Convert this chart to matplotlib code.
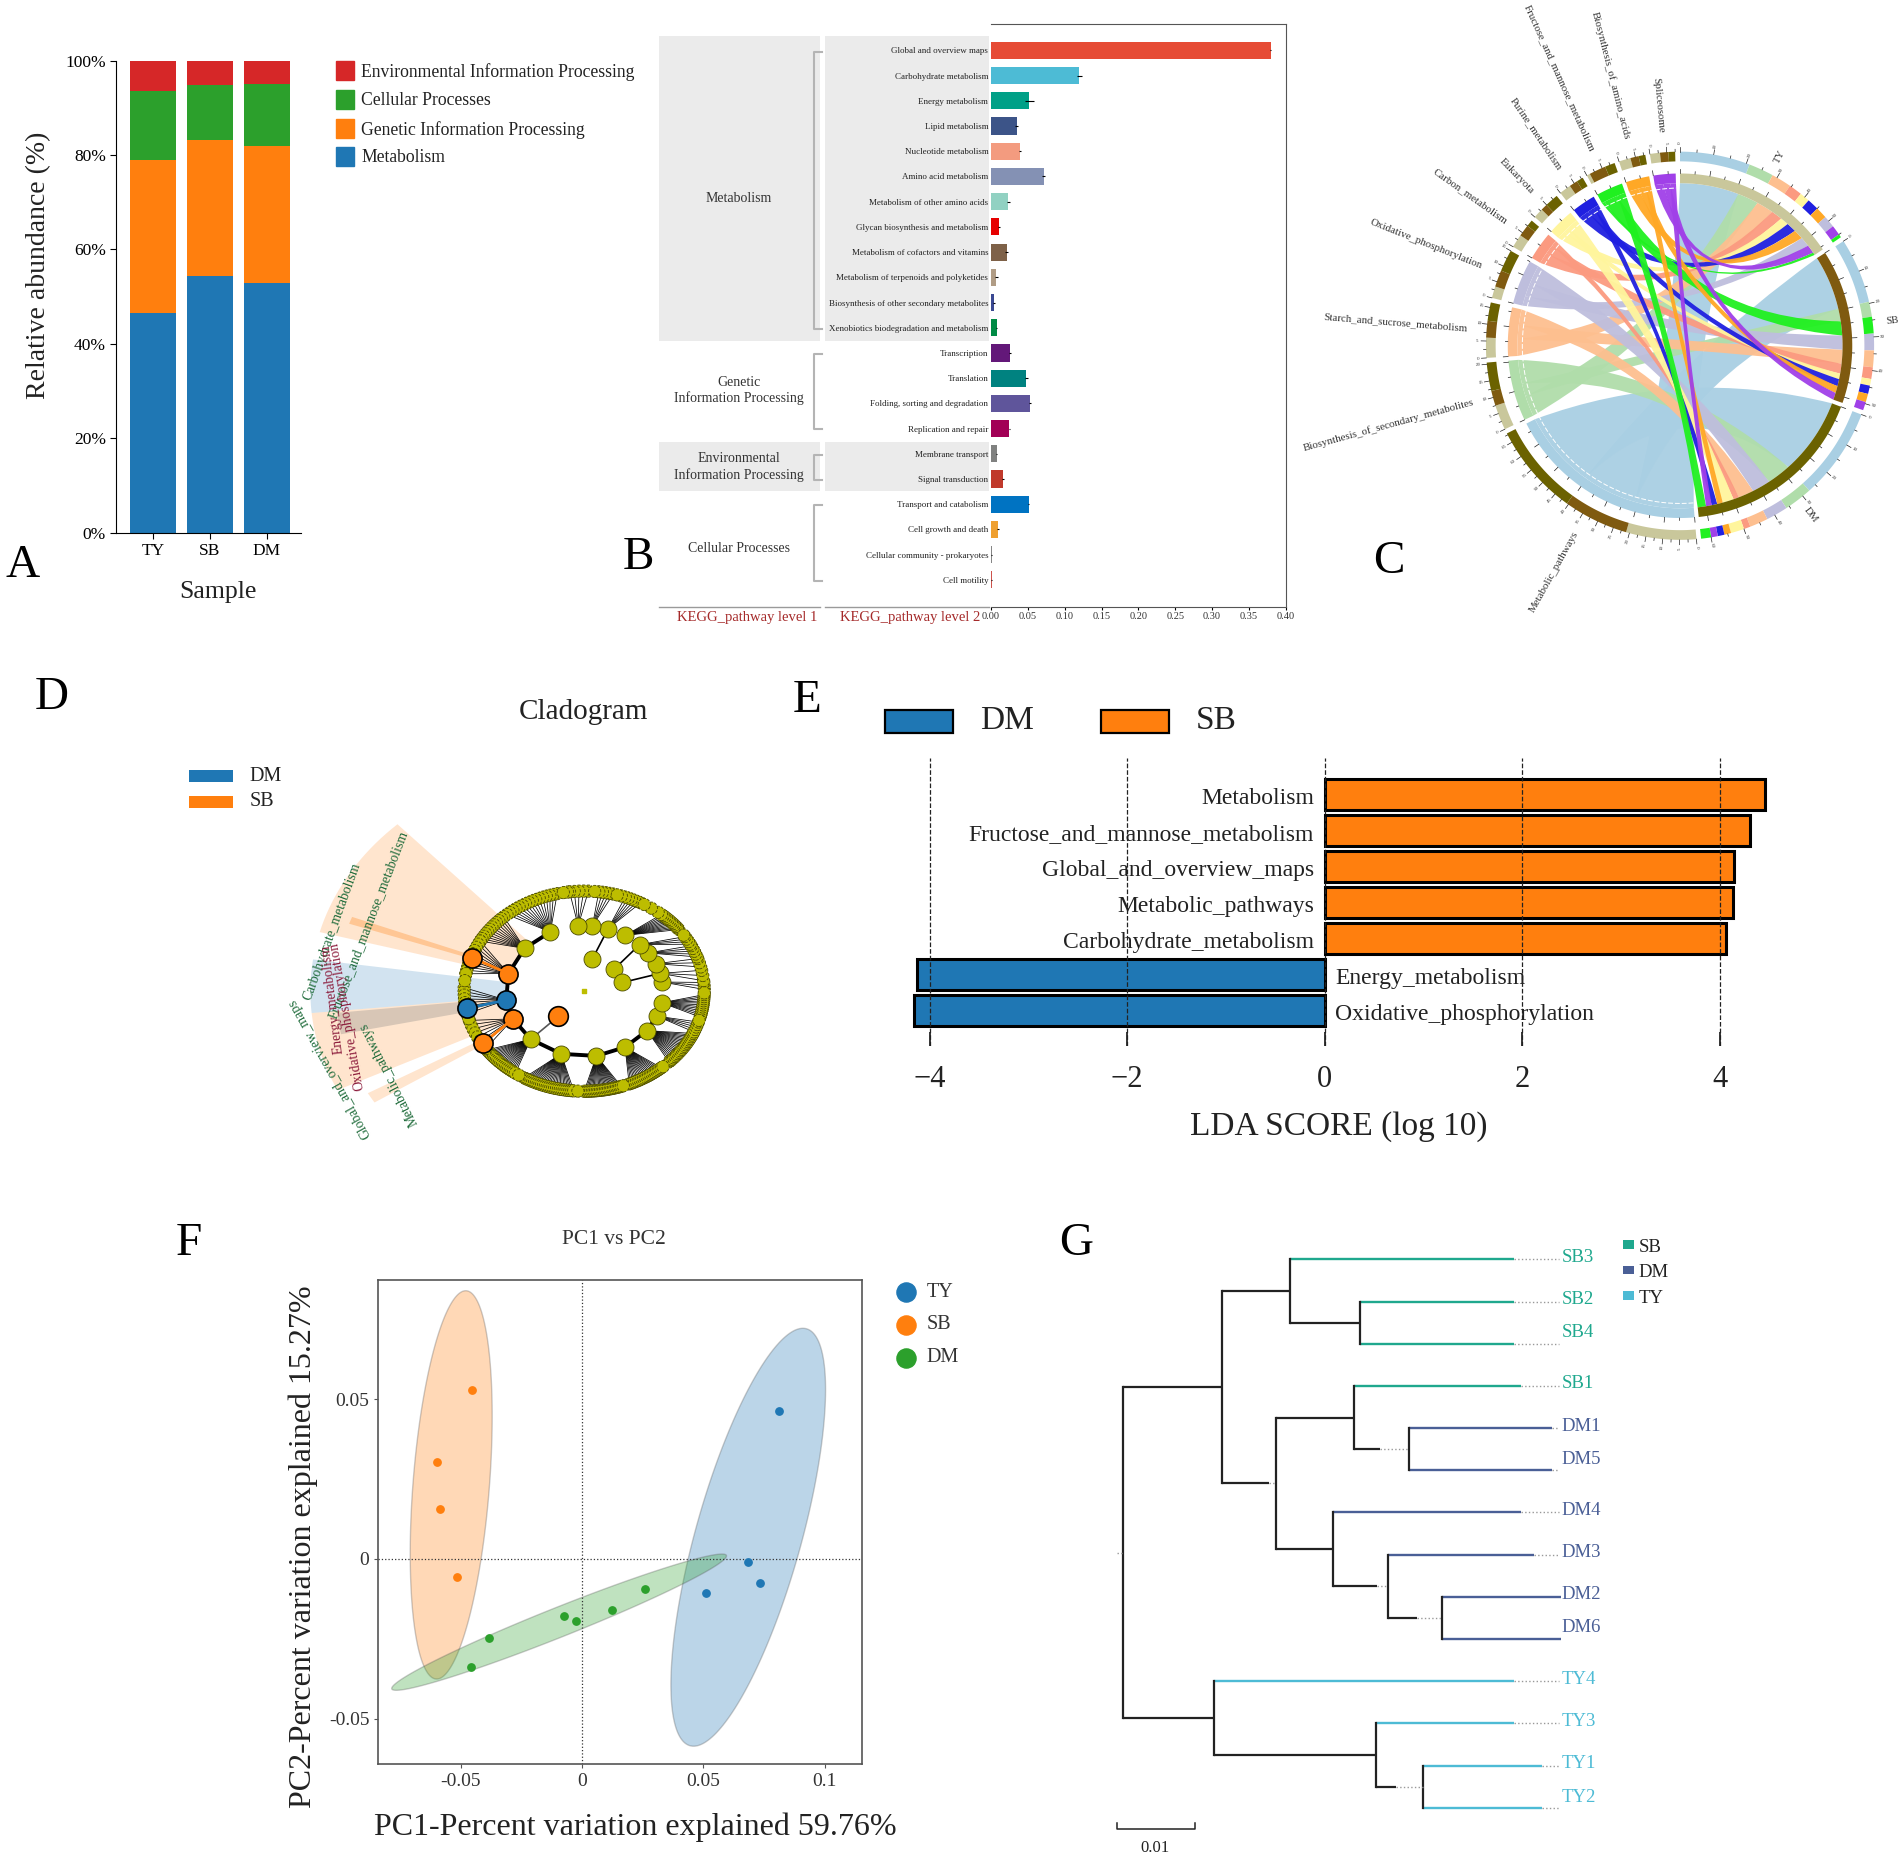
import numpy as np
import matplotlib
matplotlib.use("Agg")
import matplotlib.pyplot as plt
from matplotlib.path import Path
from matplotlib.patches import PathPatch, Rectangle, Polygon

plt.rcParams['font.family'] = ['Liberation Serif', 'DejaVu Serif']

# panel A
samples = ['TY', 'SB', 'DM']
a_levels = ['Metabolism', 'Genetic Information Processing', 'Cellular Processes', 'Environmental Information Processing']
a_values = [[46.5, 54.3, 52.8], [32.5, 28.9, 29.2], [14.5, 11.6, 13.0], [6.5, 5.2, 5.0]]
a_colors = ['#1f77b4', '#ff7f0e', '#2ca02c', '#d62728']

# panel B
b_names = ['Global and overview maps', 'Carbohydrate metabolism', 'Energy metabolism', 'Lipid metabolism',
           'Nucleotide metabolism', 'Amino acid metabolism', 'Metabolism of other amino acids',
           'Glycan biosynthesis and metabolism', 'Metabolism of cofactors and vitamins',
           'Metabolism of terpenoids and polyketides', 'Biosynthesis of other secondary metabolites',
           'Xenobiotics biodegradation and metabolism', 'Transcription', 'Translation',
           'Folding, sorting and degradation', 'Replication and repair', 'Membrane transport',
           'Signal transduction', 'Transport and catabolism', 'Cell growth and death',
           'Cellular community - prokaryotes', 'Cell motility']
b_values = [0.3795, 0.120, 0.052, 0.035, 0.039, 0.0716, 0.0235, 0.011, 0.021, 0.007, 0.004, 0.0076,
            0.026, 0.048, 0.053, 0.025, 0.0076, 0.0164, 0.051, 0.0094, 0.0008, 0.0008]
b_errors = [0.001, 0.004, 0.006, 0.002, 0.001, 0.002, 0.002, 0.001, 0.002, 0.002, 0.001, 0.0003,
            0.001, 0.002, 0.001, 0.001, 0.0003, 0.001, 0.0005, 0.001, 0.001, 0.001]
b_colors = ['#E64B35', '#4DBBD5', '#00A087', '#3C5488', '#F39B7F', '#8491B4', '#91D1C2', '#E60000',
            '#7E6148', '#B09C85', '#3B4992', '#008B45', '#631879', '#008280', '#5F559B', '#A20056',
            '#808180', '#C0392B', '#0073C2', '#EFA030', '#868686', '#CD534C']

# panel C
pathways = ['Metabolic_pathways', 'Biosynthesis_of_secondary_metabolites', 'Starch_and_sucrose_metabolism',
            'Oxidative_phosphorylation', 'Carbon_metabolism', 'Eukaryota', 'Purine_metabolism',
            'Fructose_and_mannose_metabolism', 'Biosynthesis_of_amino_acids', 'Spliceosome']
path_colors = ['#A9CFE3', '#B0DDAA', '#FDBF8F', '#BEBEDD', '#FB9A80', '#FFF59D', '#2020E0', '#20F020', '#FFA826', '#A040E8']
group_colors = ['#C9C79B', '#7F5A10', '#6B6200']
chord_ty = [21, 7.5, 6, 3.5, 4, 3, 3.5, 1, 3.5, 3]
chord_sb = [19.5, 4.5, 5, 5, 3.5, 2, 2.5, 5, 2.5, 2.5]
chord_dm = [27.5, 8.5, 5.5, 6.5, 2, 4, 2, 3, 2, 2]
order_ty = [0, 1, 2, 4, 5, 6, 8, 3, 9, 7]
order_sb = [0, 1, 7, 3, 2, 4, 5, 6, 8, 9]
order_dm = [0, 1, 3, 2, 4, 5, 8, 6, 9, 7]

# panel D
clade_angle = [115.5, 139.3, 164.4, 187.8, 205, 227.2, 253, 279, 301.3, 323, 337.6, 349.8,
               8, 15.7, 24.7, 35.7, 45.2, 58.4, 72.3, 84, 94.4]
clade_start = [103, 132, 150, 178, 197, 216, 240, 270, 292, 315, 336, 345, 1, 6, 14, 20, 28, 38, 62, 76, 88]
clade_end = [130, 150, 170, 193, 215, 235, 265, 288, 310, 335, 342, 358, 5, 12, 19, 27, 33, 50, 70, 83, 97]
clade_leaves = [16, 12, 11, 8, 8, 20, 28, 24, 20, 20, 5, 12, 3, 3, 3, 5, 4, 12, 6, 5, 5]
clade_mark = {2: '#ff7f0e', 3: '#1f77b4', 4: '#ff7f0e'}
ring_fill = [170, 174, 194, 196, 215, 237, 267, 289, 311, 343, 359, 34, 52, 56, 60, 72, 74, 85, 98, 100]
inner_angle = [78, 41.3, 15.2, 229.5]
inner_parent = [72.3, 45.2, 15.7, 227.2]
fan_start = [133, 172, 185.5, 159, 186, 209.5]
fan_end = [165, 185.5, 205.7, 161, 192, 212.5]
fan_color = ['#ff7f0e', '#1f77b4', '#ff7f0e', '#ff7f0e', '#7f7f7f', '#ff7f0e']
fan_alpha = [0.2, 0.2, 0.2, 0.3, 0.3, 0.2]
clad_labels = ['Carbohydrate_metabolism', 'Fructose_and_mannose_metabolism', 'Energy_metabolism',
               'Oxidative_phosphorylation', 'Global_and_overview_maps', 'Metabolic_pathways']
clad_label_x = [274, 304, 274, 286, 272, 321]
clad_label_y = [768, 762, 824, 838, 881, 885]
clad_label_rot = [70, 69, 97, 100, 119, 117]
clad_label_col = ['#1E6B3A', '#1E6B3A', '#8B1A3A', '#8B1A3A', '#1E6B3A', '#1E6B3A']

# panel E
lda_names = ['Metabolism', 'Fructose_and_mannose_metabolism', 'Global_and_overview_maps', 'Metabolic_pathways',
             'Carbohydrate_metabolism', 'Energy_metabolism', 'Oxidative_phosphorylation']
lda_values = [4.46, 4.31, 4.15, 4.14, 4.07, -4.13, -4.16]

# panel F
ty_x = [0.081, 0.0685, 0.0735, 0.051]
ty_y = [0.0464, -0.0011, -0.0076, -0.0106]
sb_x = [-0.0455, -0.060, -0.0585, -0.0515]
sb_y = [0.0528, 0.0304, 0.0156, -0.0057]
dm_x = [0.026, 0.0125, -0.0075, -0.0025, -0.0385, -0.046]
dm_y = [-0.0095, -0.016, -0.0179, -0.0194, -0.0247, -0.0338]
ell_center = [(0.0685, 0.0068), (-0.054, 0.0232), (-0.0095, -0.0198)]
ell_major = [(0.024, 0.0653), (0.00625, 0.0608), (0.069, 0.0209)]
ell_minor = [(0.021, -0.0044), (0.0157, -0.001), (0.0022, -0.0043)]
pca_colors = ['#1f77b4', '#ff7f0e', '#2ca02c']

# panel G
tree_colors = {'SB': '#1FA88E', 'DM': '#4A5F96', 'TY': '#4DBBD5'}
label_shift = {'SB4': 0.22, 'DM5': 0.2, 'DM6': 0.22, 'TY2': 0.2}
# (position, solid part of the branch ends here, children); tips are (name, end)
tree = (0.0, 0.0, [
    (0.01254, 0.01254, [
        (0.02127, 0.02127, [('SB3', 0.04976),
                            (0.03020, 0.03020, [('SB2', 0.04976), ('SB4', 0.04976)])]),
        (0.01941, 0.01863, [
            (0.02946, 0.02946, [('SB1', 0.05073),
                                (0.03639, 0.03268, [('DM1', 0.05463), ('DM5', 0.05463)])]),
            (0.02678, 0.02678, [('DM4', 0.05073),
                                (0.03371, 0.03229, [('DM3', 0.05234),
                                                    (0.04063, 0.03741, [('DM2', 0.05576), ('DM6', 0.05576)])])]),
        ]),
    ]),
    (0.01156, 0.01156, [('TY4', 0.04976),
                        (0.03220, 0.03220, [('TY3', 0.04976),
                                            (0.03820, 0.03473, [('TY1', 0.05341), ('TY2', 0.05341)])])]),
])

W, H = 1568.0, 1534.0
fig = plt.figure(figsize=(19.02, 18.61), dpi=100)


def add_axes(x0, y0, x1, y1):
    return fig.add_axes([x0 / W, 1 - y1 / H, (x1 - x0) / W, (y1 - y0) / H])


canvas = fig.add_axes([0, 0, 1, 1], zorder=5)
canvas.set_xlim(0, W)
canvas.set_ylim(H, 0)
canvas.axis('off')
back = fig.add_axes([0, 0, 1, 1], zorder=0)
back.set_xlim(0, W)
back.set_ylim(H, 0)
back.axis('off')

for letter, x, y in [('A', 19, 466), ('B', 526, 460), ('C', 1145, 463), ('D', 43, 575),
                     ('E', 665, 578), ('F', 156, 1025), ('G', 887, 1025)]:
    canvas.text(x, y, letter, fontsize=34, ha='center', va='center')

# ---- A
ax = add_axes(96, 50, 248, 439)
ax.set_zorder(1)
bottom = np.zeros(3)
for vals, col in zip(a_values, a_colors):
    ax.bar(range(3), vals, 0.81, bottom=bottom, color=col)
    bottom = bottom + np.array(vals)
ax.set_xlim(-0.64, 2.6)
ax.set_ylim(0, 100)
ax.set_xticks(range(3))
ax.set_xticklabels(samples, fontsize=12.5)
ax.set_yticks(range(0, 101, 20))
ax.set_yticklabels(['%d%%' % v for v in range(0, 101, 20)], fontsize=12.5)
ax.spines[['top', 'right']].set_visible(False)
ax.tick_params(length=4)
canvas.text(32, 219, 'Relative abundance (%)', rotation=90, fontsize=20, ha='center', va='center', color='#222222')
canvas.text(180, 488, 'Sample', fontsize=18.5, ha='center', va='center', color='#222222')
for i, y in enumerate([129, 106, 82, 58]):
    canvas.add_patch(Rectangle((277, y - 8), 15, 16, color=a_colors[i]))
    canvas.text(298, y + 1, a_levels[i], fontsize=12.7, va='center', color='#222222')

# ---- B
for y0, y1 in [(30, 281), (364, 405)]:
    back.add_patch(Rectangle((543, y0), 133, y1 - y0, color='#EBEBEB', lw=0))
    back.add_patch(Rectangle((680, y0), 135, y1 - y0, color='#EBEBEB', lw=0))
for y0, y1 in [(43, 271), (292, 354), (375, 396), (416, 479)]:
    back.plot([678, 671, 671, 678], [y0, y0, y1, y1], color='#B4B4B4', lw=1.5)
for x0, x1 in [(543, 676), (680, 815)]:
    back.plot([x0, x1], [500, 500], color='#9a9a9a', lw=1)
for label, y in [('Metabolism', 164), ('Genetic\nInformation Processing', 322),
                 ('Environmental\nInformation Processing', 385), ('Cellular Processes', 452)]:
    back.text(609, y, label, fontsize=10, ha='center', va='center', color='#333333', linespacing=1.25)
back.text(616, 509, 'KEGG_pathway level 1', fontsize=10.5, color='#A52A2A', ha='center', va='center')
back.text(750, 509, 'KEGG_pathway level 2', fontsize=10.5, color='#A52A2A', ha='center', va='center')

ax = add_axes(817, 20, 1060, 500)
ax.set_zorder(1)
ax.patch.set_visible(False)
ax.barh(range(22), b_values, 0.68, color=b_colors, xerr=b_errors,
        error_kw=dict(ecolor='black', lw=0.8, capsize=0))
ax.set_xlim(0, 0.40)
ax.set_ylim(22.06, -1.035)
ax.set_yticks(range(22))
ax.set_yticklabels(b_names, fontsize=6.5, color='#222222')
ax.set_xticks(np.arange(0, 0.41, 0.05))
ax.set_xticklabels(['%.2f' % v for v in np.arange(0, 0.41, 0.05)], fontsize=7.5, color='#333333')
ax.tick_params(axis='y', length=0, pad=2)
ax.tick_params(axis='x', length=2, pad=2)
ax.spines['left'].set_visible(False)
for s in ['top', 'right', 'bottom']:
    ax.spines[s].set_color('#555555')

# ---- C
cx, cy = 1385.0, 285.0
matrix = np.array([chord_ty, chord_sb, chord_dm])
orders = [order_ty, order_sb, order_dm]
gap = 1.38
R_band_in, R_band_out, R_ring_in, R_ring_out = 134.0, 142.0, 152.0, 160.0


def polar(angle, r):
    t = np.radians(angle)
    return cx + r * np.sin(t), cy - r * np.cos(t)


def band(a0, a1, r0, r1, color):
    t = np.linspace(a0, a1, 40)
    xa, ya = polar(t, r0)
    xb, yb = polar(t[::-1], r1)
    canvas.fill(np.r_[xa, xb], np.r_[ya, yb], color=color, lw=0, zorder=3)


def ticks(a0, a1, r, every=5.0, numbers=False):
    vals = np.arange(0, a1 - a0 + 0.01, every)
    for k, v in enumerate(vals):
        ln = 4 if k % 2 == 0 else 2
        x0, y0 = polar(a0 + v, r)
        x1, y1 = polar(a0 + v, r + ln)
        canvas.plot([x0, x1], [y0, y1], color='#222222', lw=0.5, zorder=3)
        if numbers and k % 2 == 0:
            xt, yt = polar(a0 + v, r + 7)
            ang = a0 + v
            canvas.text(xt, yt, '%d' % v, fontsize=3.6, ha='center', va='center', color='#333333',
                        rotation=90 - ang if ang < 180 else 270 - ang, zorder=3)


def ctrl(x0, y0, x1, y1):
    # pulled a little off the centre towards the chord, so ribbons pinch less
    return cx + 0.3 * ((x0 + x1) / 2 - cx), cy + 0.3 * ((y0 + y1) / 2 - cy)


group_spans = []
a = 0.0
for g in range(3):
    group_spans.append((a, a + matrix[g].sum()))
    a += matrix[g].sum() + gap
path_spans = []
for p in range(10):
    path_spans.append((a, a + matrix[:, p].sum()))
    a += matrix[:, p].sum() + gap

# where each pathway sits inside a group sector, and each group inside a pathway sector
group_slot = {}
for g in range(3):
    a = group_spans[g][0]
    for p in orders[g]:
        group_slot[(g, p)] = (a, a + matrix[g, p])
        band(a, a + matrix[g, p], R_ring_in, R_ring_out, path_colors[p])
        a += matrix[g, p]
    band(group_spans[g][0], group_spans[g][1], R_band_in, R_band_out, group_colors[g])
    ticks(group_spans[g][0], group_spans[g][1], R_ring_out, numbers=True)
    ticks(group_spans[g][0], group_spans[g][1], R_band_out)
path_slot = {}
for p in range(10):
    a = path_spans[p][0]
    for g in range(3):
        path_slot[(g, p)] = (a, a + matrix[g, p])
        band(a, a + matrix[g, p], R_ring_in, R_ring_out, group_colors[g])
        a += matrix[g, p]
    band(path_spans[p][0], path_spans[p][1], R_band_in, R_band_out, path_colors[p])
    ticks(path_spans[p][0], path_spans[p][1], R_ring_out, every=2.5, numbers=True)
    ticks(path_spans[p][0], path_spans[p][1], R_band_out)

for p in range(10):
    for g in range(3):
        b0, b1 = group_slot[(g, p)]
        a0, a1 = path_slot[(g, p)]
        xa, ya = polar(np.linspace(a0, a1, 12), R_band_in)
        xb, yb = polar(np.linspace(b0, b1, 12), R_band_in)
        verts = [(xb[0], yb[0])] + list(zip(xb[1:], yb[1:]))
        verts += [ctrl(xb[-1], yb[-1], xa[0], ya[0]), (xa[0], ya[0])]
        verts += list(zip(xa[1:], ya[1:]))
        verts += [ctrl(xa[-1], ya[-1], xb[0], yb[0]), (xb[0], yb[0])]
        codes = [Path.MOVETO] + [Path.LINETO] * 11 + [Path.CURVE3, Path.CURVE3]
        codes += [Path.LINETO] * 11 + [Path.CURVE3, Path.CURVE3]
        canvas.add_patch(PathPatch(Path(verts, codes), facecolor=path_colors[p], edgecolor='none',
                                   alpha=0.95, zorder=2))
    xd, yd = polar(np.linspace(path_spans[p][0], path_spans[p][1], 30), R_band_in - 4)
    canvas.plot(xd, yd, color='white', lw=0.7, ls=(0, (5, 2)), zorder=2.5)

for p in range(10):
    mid = sum(path_spans[p]) / 2.0
    x, y = polar(mid, 176)
    canvas.text(x, y, pathways[p], fontsize=7.8, rotation=270 - mid, rotation_mode='anchor', color='#333333',
                ha='right', va='center', zorder=3)
for g, name in enumerate(samples):
    mid = sum(group_spans[g]) / 2.0
    x, y = polar(mid, 176)
    rot = 90 - mid if mid < 180 else 270 - mid
    canvas.text(x, y, name, fontsize=7.5, rotation=rot, rotation_mode='anchor', ha='center', va='center',
                color='#333333', zorder=3)

# ---- D
dx, dy, rx, ry = 481.6, 817.0, 99.0, 82.5


def clad(angle, r):
    t = np.radians(angle)
    return dx + rx * r * np.cos(t), dy - ry * r * np.sin(t)


back.text(481, 587, 'Cladogram', fontsize=21, ha='center', va='center', color='#222222')
for col, y, name in [('#1f77b4', 640, 'DM'), ('#ff7f0e', 661, 'SB')]:
    back.add_patch(Rectangle((156, y - 5), 36, 10, color=col, lw=0))
    back.text(206, y, name, fontsize=14.5, va='center', color='#222222')
for a0, a1, col, alpha in zip(fan_start, fan_end, fan_color, fan_alpha):
    narrow = a1 - a0 < 8
    x0, y0 = clad(np.array([a0, a1]), 1.0 if narrow else 0.66)
    rr = 2.07 if narrow else 2.28
    x1, y1 = clad(np.linspace(a1, a0, 20), rr)
    back.add_patch(Polygon(np.c_[np.r_[x0, x1], np.r_[y0, y1]], color=col, alpha=alpha, lw=0))
for name, x, y, rot, col in zip(clad_labels, clad_label_x, clad_label_y, clad_label_rot, clad_label_col):
    back.text(x, y, name, fontsize=9.8, rotation=rot, ha='center', va='center', color=col)

olive = '#BDBD00'
px, py = clad(np.array(clade_angle)[:11], 0.655)
back.plot(px, py, color='black', lw=2.8, zorder=3)
leaf_x, leaf_y = [], []
for ang, st, en, n in zip(clade_angle, clade_start, clade_end, clade_leaves):
    nx, ny = clad(ang, 0.655)
    lx, ly = clad(np.linspace(st, en, n), 1.0)
    for xx, yy in zip(lx, ly):
        back.plot([nx, xx], [ny, yy], color='black', lw=0.55, zorder=3)
    leaf_x += list(lx)
    leaf_y += list(ly)
back.scatter(leaf_x, leaf_y, s=78, color=olive, edgecolor='#4a4a00', linewidth=0.6, ls='--', zorder=4)
ring_x, ring_y = clad(np.array(ring_fill), 1.0)
back.scatter(ring_x, ring_y, s=78, color=olive, edgecolor='#4a4a00', linewidth=0.6, ls='--', zorder=4)
for ang, par in zip(inner_angle, inner_parent):
    x0, y0 = clad(ang, 0.33)
    x1, y1 = clad(par, 0.655)
    mark = ang == 229.5
    back.plot([x0, x1], [y0, y1], color='#555555' if mark else 'black', lw=1.2, zorder=4)
    back.scatter([x0], [y0], s=200 if mark else 150, color='#ff7f0e' if mark else olive,
                 edgecolor='black' if mark else '#4a4a00', linewidth=1.2 if mark else 0.6, zorder=5)
for i, ang in enumerate(clade_angle):
    col = clade_mark.get(i, olive)
    x0, y0 = clad(ang, 0.655)
    back.scatter([x0], [y0], s=190 if i in clade_mark else 150, color=col,
                 edgecolor='black' if i in clade_mark else '#4a4a00', linewidth=1.2 if i in clade_mark else 0.6, zorder=6)
for ang, par, col in [(160.3, 164.4, '#ff7f0e'), (190, 187.8, '#1f77b4'), (211.7, 205, '#ff7f0e')]:
    x0, y0 = clad(ang, 0.99)
    x1, y1 = clad(par, 0.655)
    back.plot([x0, x1], [y0, y1], color=col, lw=2, zorder=6)
    back.scatter([x0], [y0], s=190, color=col, edgecolor='black', linewidth=1.2, zorder=7)
x0, y0 = clad(0, 0)
back.scatter([x0], [y0], s=10, color=olive, marker='s', zorder=4)

# ---- E
ax = add_axes(745, 625, 1465, 862)
ax.set_zorder(6)
ax.patch.set_visible(False)
ypos = np.arange(7)
ax.barh(ypos, lda_values, 0.86, color=['#ff7f0e'] * 5 + ['#1f77b4'] * 2, edgecolor='black', lw=2.2, zorder=1)
ax.set_xlim((745 - 1092) / 81.4, (1465 - 1092) / 81.4)
ax.set_ylim((862 - 655) / 29.7, (625 - 655) / 29.7)
for t in [-4, -2, 0, 2, 4]:
    ax.axvline(t, color='#222222', lw=0.9, ls='--', zorder=2)
for y, name, v in zip(ypos, lda_names, lda_values):
    if v > 0:
        ax.text(-0.11, y + 0.1, name, ha='right', va='center', fontsize=17, color='#222222', zorder=3)
    else:
        ax.text(0.11, y + 0.1, name, ha='left', va='center', fontsize=17, color='#222222', zorder=3)
ax.set_yticks([])
ax.set_xticks([-4, -2, 0, 2, 4])
ax.set_xticklabels(['\u22124', '\u22122', '0', '2', '4'], fontsize=22, color='#222222')
ax.tick_params(axis='x', length=10, width=1.1, direction='in', pad=14)
for s in ax.spines.values():
    s.set_visible(False)
canvas.text(1104, 929, 'LDA SCORE (log 10)', fontsize=24, ha='center', va='center', color='#222222')
for x, col, name in [(730, '#1f77b4', 'DM'), (908, '#ff7f0e', 'SB')]:
    canvas.add_patch(Rectangle((x, 585), 56, 19, facecolor=col, edgecolor='black', lw=1.6))
    canvas.text(x + 78, 594, name, fontsize=24, ha='left', va='center', color='#222222')

# ---- F
ax = add_axes(312, 1055, 711, 1454)
ax.set_zorder(1)
t = np.linspace(0, 2 * np.pi, 200)
for c, ma, mi, col in zip(ell_center, ell_major, ell_minor, pca_colors):
    ex = c[0] + ma[0] * np.cos(t) + mi[0] * np.sin(t)
    ey = c[1] + ma[1] * np.cos(t) + mi[1] * np.sin(t)
    ax.fill(ex, ey, facecolor=col, alpha=0.3, edgecolor='#555555', lw=1)
for xs, ys, col in zip([ty_x, sb_x, dm_x], [ty_y, sb_y, dm_y], pca_colors):
    ax.scatter(xs, ys, s=28, color=col, zorder=3)
ax.axhline(0, color='#333333', lw=0.9, ls=':')
ax.axvline(0, color='#333333', lw=0.9, ls=':')
ax.set_xlim(-0.084, 0.1156)
ax.set_ylim(-0.0642, 0.0874)
ax.set_xticks([-0.05, 0, 0.05, 0.1])
ax.set_xticklabels(['-0.05', '0', '0.05', '0.1'], fontsize=14, color='#333333')
ax.set_yticks([-0.05, 0, 0.05])
ax.set_yticklabels(['-0.05', '0', '0.05'], fontsize=14, color='#333333')
ax.tick_params(length=3, color='#555555')
for s in ax.spines.values():
    s.set_linewidth(1.2)
    s.set_color('#555555')
canvas.text(506, 1022, 'PC1 vs PC2', fontsize=15.5, ha='center', va='center', color='#333333')
canvas.text(524, 1506, 'PC1-Percent variation explained 59.76%', fontsize=23, ha='center', va='center', color='#222222')
canvas.text(250, 1275, 'PC2-Percent variation explained 15.27%', fontsize=23, rotation=90, ha='center', va='center', color='#222222')
for i, (name, y) in enumerate(zip(samples, [1065, 1092, 1119])):
    canvas.scatter([747], [y], s=190, color=pca_colors[i])
    canvas.text(764, y, name, fontsize=14.5, va='center', color='#333333')

# ---- G
ax = add_axes(905, 1020, 1400, 1535)
ax.set_zorder(1)
ax.patch.set_visible(False)
ax.set_xlim(-0.00325, 0.0733)
ax.set_ylim(14.29, -0.52)
ax.axis('off')
label_x = 0.0556
rank = [0]


def draw(node, parent):
    if isinstance(node[0], str):
        name, end = node
        y = rank[0]
        rank[0] += 1
        col = tree_colors[name[:2]]
        ax.plot([parent, end], [y, y], color=col, lw=1.7, solid_capstyle='butt')
        if end < label_x:
            ax.plot([end, label_x], [y, y], color='#999999', lw=1, ls=':')
        ax.text(label_x + 0.0003, y - 0.05 - label_shift.get(name, 0), name, color=col, fontsize=13.5, va='center')
        return y, end
    x, solid, kids = node
    ys = [draw(k, x)[0] for k in kids]
    y = sum(ys) / len(ys)
    ax.plot([x, x], [ys[0], ys[-1]], color='#222222', lw=1.6, solid_capstyle='projecting')
    if parent is not None:
        ax.plot([parent, solid], [y, y], color='#222222', lw=1.6, solid_capstyle='butt')
        if solid < x:
            ax.plot([solid, x], [y, y], color='#999999', lw=1, ls=':')
    return y, x


root_y, _ = draw(tree, None)
ax.plot([-0.0008, 0], [root_y, root_y], color='#999999', lw=1, ls=':')
ax.plot([-0.0008, -0.0008, 0.0092, 0.0092], [13.37, 13.5, 13.5, 13.37], color='#222222', lw=1.1)
ax.text(0.0040, 13.95, '0.01', fontsize=12, ha='center', va='center', color='#222222')
for name, y in [('SB', 1026), ('DM', 1047), ('TY', 1068)]:
    canvas.add_patch(Rectangle((1338, y - 3.5), 9, 7, color=tree_colors[name], lw=0))
    canvas.text(1351, y + 2, name, fontsize=13.5, va='center', color='#222222')

fig.savefig('out.png', dpi=100)
